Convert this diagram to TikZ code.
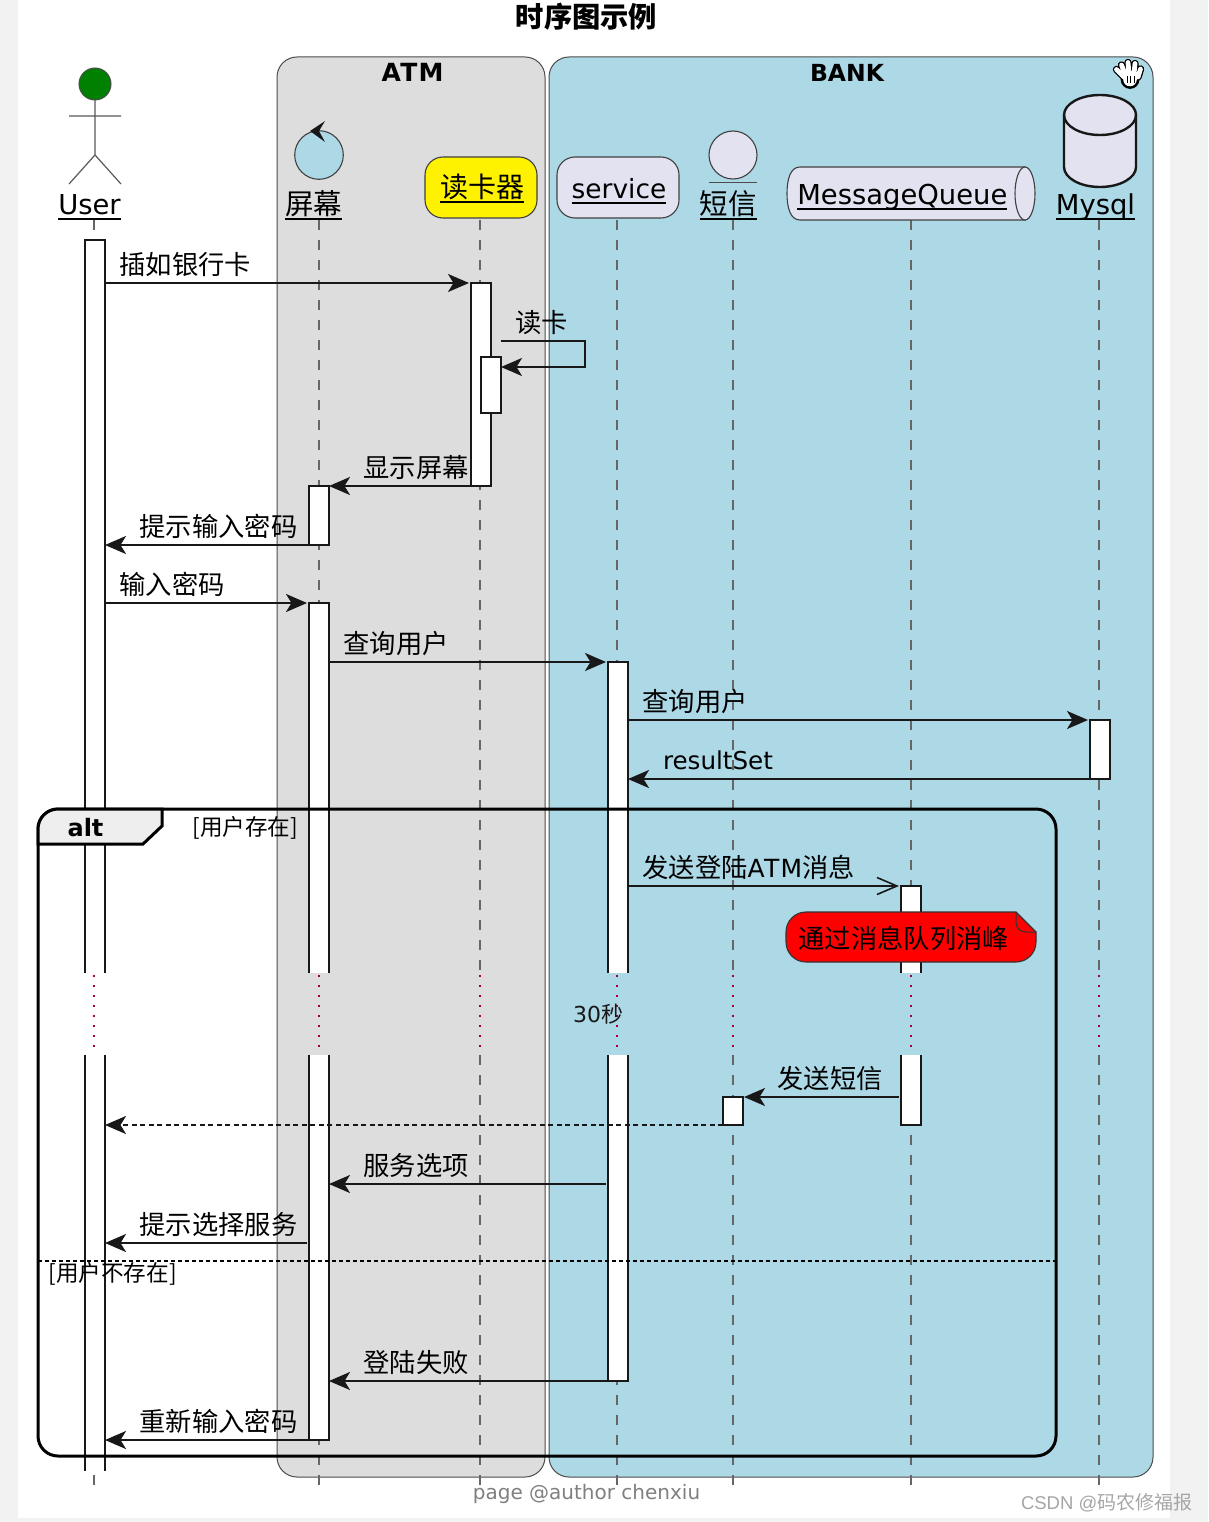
\documentclass[tikz,border=0pt]{standalone}
\usepackage{fontspec}
\setmainfont{DejaVu Sans}
\newfontfamily\cjk{Noto Sans CJK SC}
\newfontfamily\wmfont{Liberation Sans}
\newcommand{\zh}[1]{{\cjk #1}}
\usetikzlibrary{arrows.meta}
\definecolor{boxgray}{HTML}{DDDDDD}
\definecolor{bankblue}{HTML}{ADD8E6}
\definecolor{partfill}{HTML}{E2E2F0}
\definecolor{ink}{HTML}{181818}
\definecolor{lifegray}{HTML}{666666}
\definecolor{dotred}{HTML}{A80036}
\definecolor{tabfill}{HTML}{EEEEEE}
\tikzset{
  plain text/.style={inner sep=0pt,outer sep=0pt,text=black},
  msglabel/.style={plain text,anchor=base west,font=\fontsize{26.3}{30}\selectfont\cjk},
  partlabel/.style={plain text,anchor=base,text depth=4.5pt,font=\fontsize{27.4}{32}\selectfont},
  rectn/.style={inner sep=0pt,outer sep=0pt},
  groupbox/.style={rectn,draw=black!70,line width=1pt,rounded corners=20pt},
  barfill/.style={rectn,fill=white},
  barclosed/.style={rectn,fill=white,draw=ink,line width=2pt},
  barline/.style={draw=ink,line width=2pt},
  msg/.style={draw=ink,line width=2pt,-{Stealth[length=21pt,width=18pt,inset=5.5pt]}},
  msgright/.style={msg,shorten >=2pt},
  msgopen/.style={draw=ink,line width=1.6pt,-{Straight Barb[length=20pt,width=17pt,line width=1.6pt]},shorten >=2pt},
  msgdash/.style={msg,dash pattern=on 5pt off 3.5pt},
  lifeline/.style={draw=lifegray,line width=1.6pt,dash pattern=on 10pt off 10pt},
  delaydot/.style={draw=dotred,line width=2pt,dash pattern=on 2pt off 8pt},
  partshape/.style={draw=black!75,line width=1.1pt,fill=partfill},
  actorline/.style={draw=black!65,line width=1.2pt},
}
\newcommand{\rectnode}[6][]{%
  \pgfmathsetmacro{\rcx}{(#3+#5)/2}\pgfmathsetmacro{\rcy}{(#4+#6)/2}%
  \pgfmathsetmacro{\rcw}{#5-#3}\pgfmathsetmacro{\rch}{#6-#4}%
  \node[#1,minimum width=\rcw pt,minimum height=\rch pt] (#2) at (\rcx,\rcy) {};}
\newcommand{\openbottom}[1]{\draw[barline] (#1.south west)--(#1.north west)--(#1.north east)--(#1.south east);}
\newcommand{\opentop}[1]{\draw[barline] (#1.north west)--(#1.south west)--(#1.south east)--(#1.north east);}
\newcommand{\opensides}[1]{\draw[barline] (#1.north west)--(#1.south west) (#1.north east)--(#1.south east);}
\begin{document}
\begin{tikzpicture}[x=1pt,y=-1pt]
\useasboundingbox (0,0) rectangle (1208,1522);
\fill[black!5] (0,0) rectangle (1208,1522);
\fill[white] (18,0) rectangle (1170,1518);
\node[plain text,font=\fontsize{28.3}{32}\selectfont\cjk\bfseries] (title) at (586.5,17) {时序图示例};
% groups
\rectnode[groupbox,fill=boxgray]{atm}{277}{57}{545}{1477}
\rectnode[groupbox,fill=bankblue]{bank}{549}{57}{1153}{1477}
\node[plain text,anchor=base,font=\fontsize{25}{30}\selectfont\bfseries\addfontfeature{LetterSpace=5}] (atmt) at (412.5,82) {ATM};
\node[plain text,anchor=base,font=\fontsize{23.5}{30}\selectfont\bfseries] (bankt) at (847,82) {BANK};
% hand icon
\foreach \col/\wa/\wb in {black/7.4/9.4,white/4.8/6.8}{
  \draw[\col,line width=\wa pt,line cap=round] (1124,77)--(1116.5,69.5) (1125,74)--(1121.5,65) (1129,74)--(1128,62.5) (1134,74)--(1135,63.5) (1138,77)--(1140.5,69);
  \fill[\col] (1130,79.5) circle[radius=\wb];
  \fill[\col] (1131,76) ellipse[x radius=\wb,y radius=5];
}
\draw[black,line width=.9pt] (1127,76)--(1127,83.5) (1130.5,76)--(1130.5,83.5) (1134,76)--(1134,83.5);
% lifelines
\foreach \lx in {94,319,480.2,617,733,911,1099}{
  \draw[lifeline] (\lx,220)--(\lx,973);
  \draw[lifeline] (\lx,1055)--(\lx,1485);
  \draw[delaydot] (\lx,975)--(\lx,1055);
}
% actor
\draw[actorline] (95,100)--(95,155) (69,116)--(121,116) (69,184)--(95,155)--(121,184);
\fill[green!50!black,draw=black!70,line width=1pt] (95,84) circle[radius=16];
\node[partlabel] (puser) at (89.5,214.7) {User};
% control
\fill[bankblue,draw=black!75,line width=1.1pt] (319,155) circle[radius=24.3];
\fill[ink] (310,131)--(325,121)--(319,131)--(325,142)--cycle;
\node[partlabel,font=\fontsize{28.5}{32}\selectfont\cjk] (pscreen) at (313.5,214.7) {屏幕};
% reader
\rectnode[rectn,draw=black!75,line width=1.1pt,fill=yellow,rounded corners=18pt]{preaderbox}{425}{157}{537}{218}
\node[partlabel,font=\fontsize{28}{32}\selectfont\cjk] (preader) at (482,198) {读卡器};
% service
\rectnode[rectn,draw=black!75,line width=1.1pt,fill=partfill,rounded corners=18pt]{pservicebox}{557}{157}{679}{218}
\node[partlabel,font=\fontsize{26.4}{32}\selectfont] (pservice) at (619,198.5) {service};
% entity
\fill[partshape] (733,155) circle[radius=24];
\draw[black!70,line width=1pt] (709,183)--(757,183);
\node[partlabel,font=\fontsize{28.5}{32}\selectfont\cjk] (psms) at (728,214.7) {短信};
% queue
\path[partshape] (1025,167)--(800,167) .. controls (790,167) and (787,180) .. (787,193.5) .. controls (787,207) and (790,220) .. (800,220)--(1025,220)--cycle;
\fill[partshape] (1025,193.5) ellipse[x radius=10,y radius=26.5];
\node[partlabel] (pqueue) at (902.3,205) {MessageQueue};
% database
\path[draw=ink,line width=2.4pt,fill=partfill] (1064,115)--(1064,167) arc[start angle=180,end angle=0,x radius=36,y radius=20]--(1136,115) arc[start angle=0,end angle=-180,x radius=36,y radius=20]--cycle;
\draw[ink,line width=2.4pt] (1064,115) arc[start angle=180,end angle=0,x radius=36,y radius=20];
\node[partlabel] (pdb) at (1095.5,214.7) {Mysql};
\foreach \p in {puser,pscreen,preader,pservice,psms,pqueue,pdb}{
  \draw[black,line width=2pt] (\p.south west)--(\p.south east);
}
% activation bars
\rectnode[barfill]{uA}{85}{240}{105}{973}
\rectnode[barfill]{uB}{85}{1055}{105}{1471}
\rectnode[barclosed]{rA}{471}{283}{491}{486}
\rectnode[barclosed]{rB}{481}{357}{501}{413}
\rectnode[barclosed]{sC}{309}{486}{329}{545}
\rectnode[barfill]{sA}{309}{603}{329}{973}
\rectnode[barfill]{sB}{309}{1055}{329}{1440}
\rectnode[barfill]{svA}{608}{662}{628}{973}
\rectnode[barfill]{svB}{608}{1055}{628}{1381}
\rectnode[barclosed]{dbA}{1090}{720}{1110}{779}
\rectnode[barfill]{mA}{901}{886}{921}{973}
\rectnode[barfill]{mB}{901}{1055}{921}{1125}
\rectnode[barclosed]{smA}{723}{1097}{743}{1125}
\openbottom{uA}\opensides{uB}\openbottom{sA}\opentop{sB}\openbottom{svA}\opentop{svB}\openbottom{mA}\opentop{mB}
% alt frame
\rectnode[rectn,draw=black,line width=3pt,rounded corners=20pt]{altframe}{38}{809}{1056}{1456}
\path[draw=black,line width=3pt,fill=tabfill,line join=miter] (38,844)--(38,829) arc[start angle=180,end angle=270,radius=20]--(162,809)--(162,826)--(143,844)--cycle;
\node[plain text,anchor=base,font=\fontsize{24}{28}\selectfont\bfseries] (altlab) at (85.5,836) {alt};
\node[plain text,anchor=base west,font=\fontsize{22.6}{26}\selectfont\cjk] (guard1) at (192.5,835) {[用户存在]};
\coordinate (elseL) at (38,1260.5);
\coordinate (elseR) at (1056,1260.5);
\draw[black,line width=2pt,dash pattern=on 4pt off 3pt] (elseL)--(elseR);
\node[plain text,anchor=base west,font=\fontsize{22.6}{26}\selectfont\cjk] (guard2) at (48.5,1281.5) {[用户不存在]};
% message rows without a bar end
\coordinate (yFw) at (0,1184);
\coordinate (ySel) at (0,1243);
\coordinate (selfa) at (501,341);
\coordinate (selfb) at (585,341);
\coordinate (selfc) at (585,367);
\coordinate (selfd) at (501,367);
% messages
\draw[msgright] (uA.east |- rA.north)--(rA.north west);
\node[msglabel] (l1) at (119.5,274) {插如银行卡};
\draw[msg] (selfa)--(selfb)--(selfc)--(selfd);
\node[msglabel] (l2) at (515.5,332) {读卡};
\draw[msg] (rA.south west)--(sC.north east);
\node[msglabel] (l3) at (363.5,477) {显示屏幕};
\draw[msg] (sC.south west)--(uA.east |- sC.south);
\node[msglabel] (l4) at (139.5,536) {提示输入密码};
\draw[msgright] (uA.east |- sA.north)--(sA.north west);
\node[msglabel] (l5) at (119.5,594) {输入密码};
\draw[msgright] (sA.east |- svA.north)--(svA.north west);
\node[msglabel] (l6) at (343.5,653) {查询用户};
\draw[msgright] (svA.east |- dbA.north)--(dbA.north west);
\node[msglabel] (l7) at (642.5,711) {查询用户};
\draw[msg] (dbA.south west)--(svA.east |- dbA.south);
\node[msglabel,font=\fontsize{24.6}{30}\selectfont] (l8) at (663,769) {resultSet};
\draw[msgopen] (svA.east |- mA.north)--(mA.north west);
\node[msglabel,font=\fontsize{26.3}{30}\selectfont] (l9) at (642.5,877) {\zh{发送登陆}{\fontsize{25}{30}\selectfont\addfontfeature{LetterSpace=5} ATM}\zh{消息}};
\draw[msg,shorten <=2pt,shorten >=1pt] (mB.west |- smA.north)--(smA.north east);
\node[msglabel] (l10) at (777.5,1088) {发送短信};
\draw[msgdash] (smA.south west)--(uB.east |- smA.south);
\draw[msg,shorten <=2pt] (svB.west |- yFw)--(sB.east |- yFw);
\node[msglabel] (l11) at (363.5,1175) {服务选项};
\draw[msg,shorten <=2pt] (sB.west |- ySel)--(uB.east |- ySel);
\node[msglabel] (l12) at (139.5,1234) {提示选择服务};
\draw[msg] (svB.south west)--(sB.east |- svB.south);
\node[msglabel] (l13) at (363.5,1372) {登陆失败};
\draw[msg] (sB.south west)--(uB.east |- sB.south);
\node[msglabel] (l14) at (139.5,1431) {重新输入密码};
% note
\path[draw=black!80,line width=1.1pt,fill=red] (1036,932)--(1016,912)--(806,912) arc[start angle=270,end angle=180,radius=20]--(786,942) arc[start angle=180,end angle=90,radius=20]--(1016,962) arc[start angle=90,end angle=0,radius=20]--cycle;
\draw[black!80,line width=1pt] (1016,912)--(1016,922) .. controls (1016,928) and (1020,932) .. (1026,932)--(1036,932);
\node[msglabel] (notet) at (798.5,948) {通过消息队列消峰};
% delay text
\node[plain text,anchor=base west,text=ink,font=\fontsize{22}{26}\selectfont] (delayt) at (573,1022) {30\zh{秒}};
% footer
\node[plain text,anchor=base,text=black!50,font=\fontsize{20}{24}\selectfont] (footer) at (586.5,1499) {page @author chenxiu};
\node[plain text,anchor=base west,text=black!35,font=\fontsize{18.5}{24}\selectfont\wmfont] (wm) at (1021,1509) {CSDN @\zh{\fontsize{19}{24}\selectfont 码农修福报}};
\end{tikzpicture}
\end{document}
